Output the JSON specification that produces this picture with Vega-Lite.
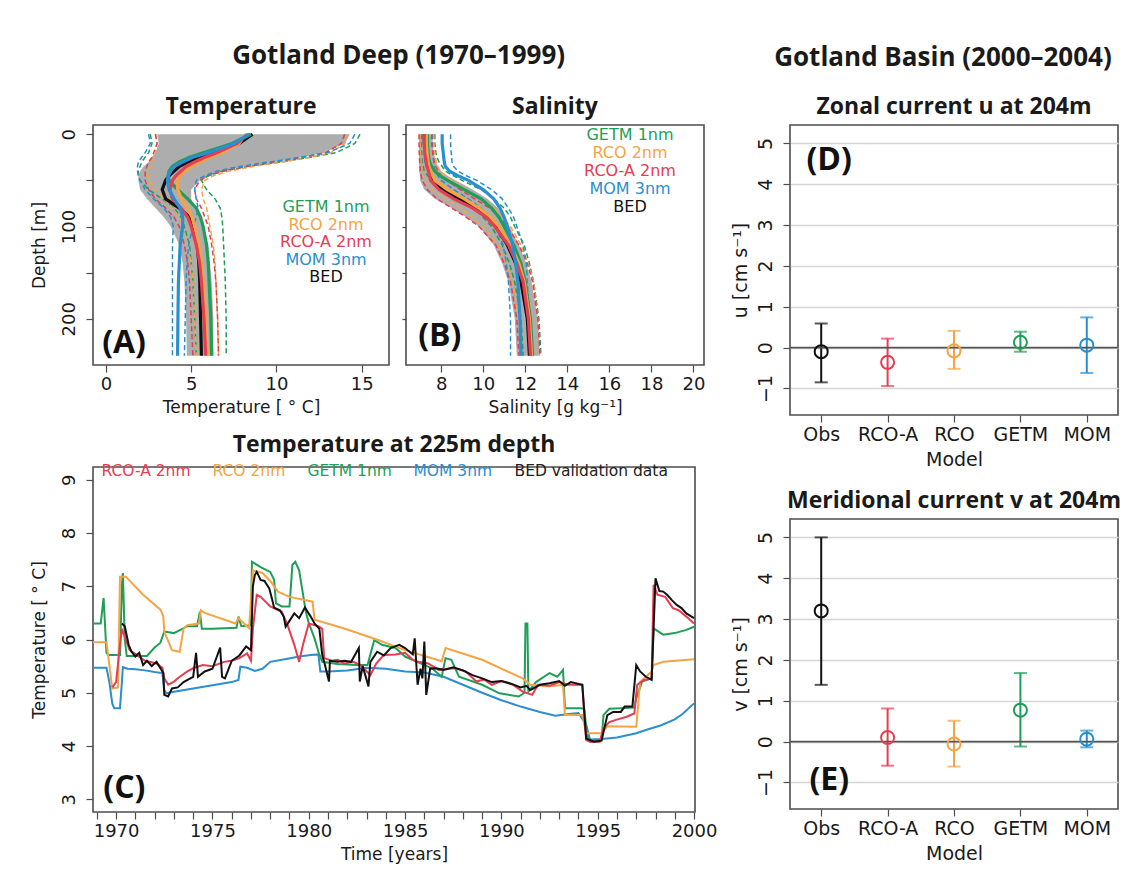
{
  "$schema": "https://vega.github.io/schema/vega-lite/v6.json",
  "background": "white",
  "padding": {"left": 29, "top": 43, "right": 0, "bottom": 0},
  "spacing": 12,
  "config": {
    "font": "DejaVu Sans",
    "view": {"stroke": "#4d4d4d", "strokeWidth": 1.6},
    "axis": {"domain": false, "grid": false, "labelFont": "DejaVu Sans", "labelFontSize": 18, "labelColor": "#1a1a1a", "titleFont": "DejaVu Sans", "titleFontSize": 17, "titleFontWeight": "normal", "titleColor": "#1a1a1a", "tickColor": "#4d4d4d", "tickSize": 7, "tickWidth": 1.2, "labelFlush": false, "labelOverlap": false, "labelPadding": 3, "titlePadding": 6},
    "axisY": {"labelAngle": 270, "labelAlign": "center", "labelBaseline": "bottom"},
    "title": {"font": "Open Sans", "fontWeight": "bold", "fontSize": 23, "color": "#1a1a1a", "anchor": "middle", "frame": "group", "offset": 6}
  },
  "datasets": {
    "profT": [
      {"m":"BED","d":0,"mu":8.6,"lo":3.0,"hi":14.3},{"m":"BED","d":10,"mu":7.8,"lo":3.1,"hi":14.0},{"m":"BED","d":20,"mu":6.3,"lo":2.9,"hi":12.8},{"m":"BED","d":25,"mu":5.4,"lo":2.7,"hi":11.5},{"m":"BED","d":30,"mu":4.8,"lo":2.5,"hi":9.8},{"m":"BED","d":35,"mu":4.3,"lo":2.2,"hi":8.0},{"m":"BED","d":40,"mu":4.0,"lo":2.0,"hi":6.8},{"m":"BED","d":45,"mu":3.7,"lo":1.9,"hi":6.0},{"m":"BED","d":50,"mu":3.5,"lo":1.9,"hi":5.5},{"m":"BED","d":60,"mu":3.3,"lo":2.0,"hi":5.0},{"m":"BED","d":70,"mu":3.5,"lo":2.4,"hi":5.0},{"m":"BED","d":80,"mu":4.3,"lo":2.9,"hi":5.2},{"m":"BED","d":90,"mu":4.9,"lo":3.4,"hi":5.5},{"m":"BED","d":100,"mu":5.15,"lo":3.8,"hi":5.7},{"m":"BED","d":120,"mu":5.35,"lo":4.3,"hi":6.0},{"m":"BED","d":140,"mu":5.45,"lo":4.5,"hi":6.1},{"m":"BED","d":160,"mu":5.5,"lo":4.6,"hi":6.2},{"m":"BED","d":200,"mu":5.55,"lo":4.7,"hi":6.3},{"m":"BED","d":240,"mu":5.6,"lo":4.75,"hi":6.3},
      {"m":"GETM 1nm","d":0,"mu":8.5,"lo":2.6,"hi":14.9},{"m":"GETM 1nm","d":10,"mu":7.4,"lo":2.7,"hi":14.6},{"m":"GETM 1nm","d":20,"mu":5.7,"lo":2.5,"hi":13.5},{"m":"GETM 1nm","d":25,"mu":4.9,"lo":2.3,"hi":12.0},{"m":"GETM 1nm","d":30,"mu":4.3,"lo":2.1,"hi":10.2},{"m":"GETM 1nm","d":35,"mu":3.9,"lo":2.0,"hi":8.3},{"m":"GETM 1nm","d":40,"mu":3.7,"lo":1.9,"hi":6.8},{"m":"GETM 1nm","d":45,"mu":3.65,"lo":1.9,"hi":6.0},{"m":"GETM 1nm","d":50,"mu":3.7,"lo":2.0,"hi":5.6},{"m":"GETM 1nm","d":60,"mu":4.2,"lo":2.5,"hi":5.9},{"m":"GETM 1nm","d":70,"mu":4.8,"lo":3.3,"hi":6.4},{"m":"GETM 1nm","d":80,"mu":5.3,"lo":4.0,"hi":6.7},{"m":"GETM 1nm","d":90,"mu":5.55,"lo":4.4,"hi":6.8},{"m":"GETM 1nm","d":100,"mu":5.7,"lo":4.6,"hi":6.85},{"m":"GETM 1nm","d":120,"mu":5.9,"lo":4.9,"hi":6.9},{"m":"GETM 1nm","d":140,"mu":6.0,"lo":5.0,"hi":6.95},{"m":"GETM 1nm","d":160,"mu":6.05,"lo":5.1,"hi":7.0},{"m":"GETM 1nm","d":200,"mu":6.15,"lo":5.2,"hi":7.05},{"m":"GETM 1nm","d":240,"mu":6.2,"lo":5.3,"hi":7.05},
      {"m":"RCO 2nm","d":0,"mu":8.2,"lo":2.9,"hi":14.2},{"m":"RCO 2nm","d":10,"mu":7.8,"lo":3.0,"hi":14.0},{"m":"RCO 2nm","d":20,"mu":6.8,"lo":2.9,"hi":13.2},{"m":"RCO 2nm","d":25,"mu":6.1,"lo":2.8,"hi":12.0},{"m":"RCO 2nm","d":30,"mu":5.5,"lo":2.7,"hi":10.4},{"m":"RCO 2nm","d":35,"mu":5.0,"lo":2.6,"hi":8.6},{"m":"RCO 2nm","d":40,"mu":4.6,"lo":2.5,"hi":7.2},{"m":"RCO 2nm","d":45,"mu":4.35,"lo":2.5,"hi":6.3},{"m":"RCO 2nm","d":50,"mu":4.2,"lo":2.6,"hi":5.8},{"m":"RCO 2nm","d":60,"mu":4.2,"lo":2.9,"hi":5.6},{"m":"RCO 2nm","d":70,"mu":4.45,"lo":3.4,"hi":5.7},{"m":"RCO 2nm","d":80,"mu":4.8,"lo":3.9,"hi":5.9},{"m":"RCO 2nm","d":90,"mu":5.05,"lo":4.3,"hi":6.0},{"m":"RCO 2nm","d":100,"mu":5.2,"lo":4.5,"hi":6.1},{"m":"RCO 2nm","d":120,"mu":5.45,"lo":4.8,"hi":6.3},{"m":"RCO 2nm","d":140,"mu":5.6,"lo":5.0,"hi":6.4},{"m":"RCO 2nm","d":160,"mu":5.7,"lo":5.1,"hi":6.45},{"m":"RCO 2nm","d":200,"mu":5.85,"lo":5.2,"hi":6.55},{"m":"RCO 2nm","d":240,"mu":5.95,"lo":5.3,"hi":6.6},
      {"m":"RCO-A 2nm","d":0,"mu":8.3,"lo":2.9,"hi":14.0},{"m":"RCO-A 2nm","d":10,"mu":7.7,"lo":3.0,"hi":13.8},{"m":"RCO-A 2nm","d":20,"mu":6.5,"lo":2.8,"hi":12.9},{"m":"RCO-A 2nm","d":25,"mu":5.8,"lo":2.7,"hi":11.6},{"m":"RCO-A 2nm","d":30,"mu":5.2,"lo":2.5,"hi":9.9},{"m":"RCO-A 2nm","d":35,"mu":4.7,"lo":2.4,"hi":8.2},{"m":"RCO-A 2nm","d":40,"mu":4.4,"lo":2.3,"hi":6.9},{"m":"RCO-A 2nm","d":45,"mu":4.1,"lo":2.3,"hi":6.0},{"m":"RCO-A 2nm","d":50,"mu":3.9,"lo":2.3,"hi":5.5},{"m":"RCO-A 2nm","d":60,"mu":3.75,"lo":2.5,"hi":5.2},{"m":"RCO-A 2nm","d":70,"mu":3.9,"lo":2.9,"hi":5.3},{"m":"RCO-A 2nm","d":80,"mu":4.4,"lo":3.5,"hi":5.6},{"m":"RCO-A 2nm","d":90,"mu":4.8,"lo":4.0,"hi":5.8},{"m":"RCO-A 2nm","d":100,"mu":5.0,"lo":4.3,"hi":6.0},{"m":"RCO-A 2nm","d":120,"mu":5.3,"lo":4.6,"hi":6.2},{"m":"RCO-A 2nm","d":140,"mu":5.5,"lo":4.8,"hi":6.35},{"m":"RCO-A 2nm","d":160,"mu":5.6,"lo":4.9,"hi":6.45},{"m":"RCO-A 2nm","d":200,"mu":5.75,"lo":5.0,"hi":6.55},{"m":"RCO-A 2nm","d":240,"mu":5.85,"lo":5.1,"hi":6.6},
      {"m":"MOM 3nm","d":0,"mu":8.4,"lo":2.5,"hi":14.6},{"m":"MOM 3nm","d":10,"mu":7.5,"lo":2.6,"hi":14.3},{"m":"MOM 3nm","d":20,"mu":6.0,"lo":2.3,"hi":13.0},{"m":"MOM 3nm","d":25,"mu":5.1,"lo":2.1,"hi":11.4},{"m":"MOM 3nm","d":30,"mu":4.5,"lo":1.9,"hi":9.6},{"m":"MOM 3nm","d":35,"mu":4.0,"lo":1.85,"hi":7.8},{"m":"MOM 3nm","d":40,"mu":3.8,"lo":1.85,"hi":6.5},{"m":"MOM 3nm","d":45,"mu":3.65,"lo":1.9,"hi":5.8},{"m":"MOM 3nm","d":50,"mu":3.6,"lo":2.0,"hi":5.3},{"m":"MOM 3nm","d":60,"mu":3.7,"lo":2.3,"hi":5.2},{"m":"MOM 3nm","d":70,"mu":4.0,"lo":2.8,"hi":5.3},{"m":"MOM 3nm","d":80,"mu":4.35,"lo":3.4,"hi":5.4},{"m":"MOM 3nm","d":90,"mu":4.5,"lo":3.8,"hi":5.3},{"m":"MOM 3nm","d":100,"mu":4.5,"lo":3.95,"hi":5.1},{"m":"MOM 3nm","d":120,"mu":4.35,"lo":3.9,"hi":4.85},{"m":"MOM 3nm","d":140,"mu":4.3,"lo":3.9,"hi":4.75},{"m":"MOM 3nm","d":160,"mu":4.25,"lo":3.9,"hi":4.7},{"m":"MOM 3nm","d":200,"mu":4.22,"lo":3.9,"hi":4.65},{"m":"MOM 3nm","d":240,"mu":4.2,"lo":3.9,"hi":4.6}
    ],
    "profS": [
      {"m":"BED","d":0,"mu":7.2,"lo":6.95,"hi":7.6},{"m":"BED","d":10,"mu":7.2,"lo":6.95,"hi":7.6},{"m":"BED","d":20,"mu":7.25,"lo":6.95,"hi":7.65},{"m":"BED","d":25,"mu":7.27,"lo":6.95,"hi":7.7},{"m":"BED","d":30,"mu":7.3,"lo":6.95,"hi":7.75},{"m":"BED","d":35,"mu":7.35,"lo":6.95,"hi":7.85},{"m":"BED","d":40,"mu":7.45,"lo":6.95,"hi":8.0},{"m":"BED","d":45,"mu":7.5,"lo":7.0,"hi":8.3},{"m":"BED","d":50,"mu":7.6,"lo":7.0,"hi":8.7},{"m":"BED","d":60,"mu":8.05,"lo":7.2,"hi":9.5},{"m":"BED","d":70,"mu":8.85,"lo":7.7,"hi":10.2},{"m":"BED","d":80,"mu":9.74,"lo":8.5,"hi":10.7},{"m":"BED","d":90,"mu":10.3,"lo":9.2,"hi":11.0},{"m":"BED","d":100,"mu":10.6,"lo":9.8,"hi":11.25},{"m":"BED","d":120,"mu":11.15,"lo":10.5,"hi":11.7},{"m":"BED","d":140,"mu":11.55,"lo":10.9,"hi":12.05},{"m":"BED","d":160,"mu":11.8,"lo":11.2,"hi":12.3},{"m":"BED","d":200,"mu":12.1,"lo":11.5,"hi":12.6},{"m":"BED","d":240,"mu":12.2,"lo":11.6,"hi":12.7},
      {"m":"GETM 1nm","d":0,"mu":7.35,"lo":7.05,"hi":7.7},{"m":"GETM 1nm","d":10,"mu":7.35,"lo":7.05,"hi":7.7},{"m":"GETM 1nm","d":20,"mu":7.38,"lo":7.07,"hi":7.75},{"m":"GETM 1nm","d":25,"mu":7.4,"lo":7.1,"hi":7.8},{"m":"GETM 1nm","d":30,"mu":7.45,"lo":7.1,"hi":7.9},{"m":"GETM 1nm","d":35,"mu":7.55,"lo":7.15,"hi":8.05},{"m":"GETM 1nm","d":40,"mu":7.7,"lo":7.2,"hi":8.2},{"m":"GETM 1nm","d":45,"mu":7.95,"lo":7.35,"hi":8.6},{"m":"GETM 1nm","d":50,"mu":8.3,"lo":7.6,"hi":9.0},{"m":"GETM 1nm","d":60,"mu":9.1,"lo":8.2,"hi":9.9},{"m":"GETM 1nm","d":70,"mu":9.9,"lo":8.9,"hi":10.5},{"m":"GETM 1nm","d":80,"mu":10.4,"lo":9.6,"hi":11.0},{"m":"GETM 1nm","d":90,"mu":10.75,"lo":10.0,"hi":11.3},{"m":"GETM 1nm","d":100,"mu":11.0,"lo":10.4,"hi":11.5},{"m":"GETM 1nm","d":120,"mu":11.45,"lo":10.9,"hi":11.95},{"m":"GETM 1nm","d":140,"mu":11.8,"lo":11.25,"hi":12.2},{"m":"GETM 1nm","d":160,"mu":12.0,"lo":11.5,"hi":12.4},{"m":"GETM 1nm","d":200,"mu":12.25,"lo":11.8,"hi":12.65},{"m":"GETM 1nm","d":240,"mu":12.35,"lo":11.9,"hi":12.75},
      {"m":"RCO 2nm","d":0,"mu":7.3,"lo":7.0,"hi":7.65},{"m":"RCO 2nm","d":10,"mu":7.3,"lo":7.0,"hi":7.65},{"m":"RCO 2nm","d":20,"mu":7.33,"lo":7.02,"hi":7.7},{"m":"RCO 2nm","d":25,"mu":7.35,"lo":7.03,"hi":7.72},{"m":"RCO 2nm","d":30,"mu":7.38,"lo":7.05,"hi":7.78},{"m":"RCO 2nm","d":35,"mu":7.42,"lo":7.07,"hi":7.85},{"m":"RCO 2nm","d":40,"mu":7.5,"lo":7.1,"hi":7.95},{"m":"RCO 2nm","d":45,"mu":7.6,"lo":7.15,"hi":8.2},{"m":"RCO 2nm","d":50,"mu":7.7,"lo":7.2,"hi":8.5},{"m":"RCO 2nm","d":60,"mu":8.3,"lo":7.6,"hi":9.2},{"m":"RCO 2nm","d":70,"mu":9.1,"lo":8.2,"hi":9.9},{"m":"RCO 2nm","d":80,"mu":9.8,"lo":8.9,"hi":10.5},{"m":"RCO 2nm","d":90,"mu":10.35,"lo":9.5,"hi":10.95},{"m":"RCO 2nm","d":100,"mu":10.75,"lo":10.0,"hi":11.3},{"m":"RCO 2nm","d":120,"mu":11.3,"lo":10.7,"hi":11.8},{"m":"RCO 2nm","d":140,"mu":11.7,"lo":11.1,"hi":12.15},{"m":"RCO 2nm","d":160,"mu":11.95,"lo":11.4,"hi":12.4},{"m":"RCO 2nm","d":200,"mu":12.2,"lo":11.7,"hi":12.6},{"m":"RCO 2nm","d":240,"mu":12.3,"lo":11.8,"hi":12.7},
      {"m":"RCO-A 2nm","d":0,"mu":7.2,"lo":6.95,"hi":7.55},{"m":"RCO-A 2nm","d":10,"mu":7.2,"lo":6.95,"hi":7.55},{"m":"RCO-A 2nm","d":20,"mu":7.22,"lo":6.96,"hi":7.6},{"m":"RCO-A 2nm","d":25,"mu":7.25,"lo":6.97,"hi":7.62},{"m":"RCO-A 2nm","d":30,"mu":7.28,"lo":6.98,"hi":7.68},{"m":"RCO-A 2nm","d":35,"mu":7.33,"lo":7.0,"hi":7.75},{"m":"RCO-A 2nm","d":40,"mu":7.4,"lo":7.02,"hi":7.85},{"m":"RCO-A 2nm","d":45,"mu":7.45,"lo":7.05,"hi":8.0},{"m":"RCO-A 2nm","d":50,"mu":7.5,"lo":7.1,"hi":8.3},{"m":"RCO-A 2nm","d":60,"mu":7.9,"lo":7.35,"hi":8.9},{"m":"RCO-A 2nm","d":70,"mu":8.6,"lo":7.8,"hi":9.6},{"m":"RCO-A 2nm","d":80,"mu":9.5,"lo":8.5,"hi":10.3},{"m":"RCO-A 2nm","d":90,"mu":10.15,"lo":9.2,"hi":10.8},{"m":"RCO-A 2nm","d":100,"mu":10.55,"lo":9.8,"hi":11.15},{"m":"RCO-A 2nm","d":120,"mu":11.2,"lo":10.6,"hi":11.7},{"m":"RCO-A 2nm","d":140,"mu":11.6,"lo":11.0,"hi":12.1},{"m":"RCO-A 2nm","d":160,"mu":11.9,"lo":11.3,"hi":12.35},{"m":"RCO-A 2nm","d":200,"mu":12.15,"lo":11.6,"hi":12.6},{"m":"RCO-A 2nm","d":240,"mu":12.25,"lo":11.7,"hi":12.7},
      {"m":"MOM 3nm","d":0,"mu":8.05,"lo":7.6,"hi":8.45},{"m":"MOM 3nm","d":10,"mu":8.05,"lo":7.6,"hi":8.45},{"m":"MOM 3nm","d":20,"mu":8.1,"lo":7.62,"hi":8.48},{"m":"MOM 3nm","d":25,"mu":8.12,"lo":7.63,"hi":8.5},{"m":"MOM 3nm","d":30,"mu":8.15,"lo":7.65,"hi":8.52},{"m":"MOM 3nm","d":35,"mu":8.2,"lo":7.67,"hi":8.6},{"m":"MOM 3nm","d":40,"mu":8.4,"lo":7.7,"hi":8.8},{"m":"MOM 3nm","d":45,"mu":8.8,"lo":7.85,"hi":9.2},{"m":"MOM 3nm","d":50,"mu":9.3,"lo":8.0,"hi":9.7},{"m":"MOM 3nm","d":60,"mu":10.0,"lo":8.6,"hi":10.4},{"m":"MOM 3nm","d":70,"mu":10.5,"lo":9.3,"hi":10.9},{"m":"MOM 3nm","d":80,"mu":10.8,"lo":9.9,"hi":11.2},{"m":"MOM 3nm","d":90,"mu":11.0,"lo":10.3,"hi":11.45},{"m":"MOM 3nm","d":100,"mu":11.15,"lo":10.6,"hi":11.6},{"m":"MOM 3nm","d":120,"mu":11.4,"lo":10.95,"hi":11.9},{"m":"MOM 3nm","d":140,"mu":11.55,"lo":11.1,"hi":12.05},{"m":"MOM 3nm","d":160,"mu":11.65,"lo":11.2,"hi":12.1},{"m":"MOM 3nm","d":200,"mu":11.75,"lo":11.3,"hi":12.2},{"m":"MOM 3nm","d":240,"mu":11.8,"lo":11.3,"hi":12.25}
    ],
    "mom": [
      {"t":1968.8,"v":5.47},{"t":1969.5,"v":5.47},{"t":1969.65,"v":5.2},{"t":1969.8,"v":4.8},{"t":1969.9,"v":4.71},{"t":1970.2,"v":4.71},{"t":1970.3,"v":5.2},{"t":1970.35,"v":5.48},{"t":1970.6,"v":5.45},{"t":1971.0,"v":5.44},{"t":1971.5,"v":5.42},{"t":1972.0,"v":5.39},{"t":1972.4,"v":5.37},{"t":1972.5,"v":5.05},{"t":1972.6,"v":4.99},{"t":1973.0,"v":5.02},{"t":1974.0,"v":5.08},{"t":1975.0,"v":5.14},{"t":1976.0,"v":5.2},{"t":1976.35,"v":5.24},{"t":1976.45,"v":5.49},{"t":1976.8,"v":5.47},{"t":1977.2,"v":5.41},{"t":1977.6,"v":5.45},{"t":1978.0,"v":5.58},{"t":1978.9,"v":5.64},{"t":1979.5,"v":5.68},{"t":1980.1,"v":5.71},{"t":1980.5,"v":5.72},{"t":1980.6,"v":5.4},{"t":1981.0,"v":5.4},{"t":1982.0,"v":5.42},{"t":1983.0,"v":5.47},{"t":1984.0,"v":5.45},{"t":1985.0,"v":5.4},{"t":1986.0,"v":5.38},{"t":1987.0,"v":5.3},{"t":1988.0,"v":5.15},{"t":1989.0,"v":5.0},{"t":1990.0,"v":4.86},{"t":1991.0,"v":4.74},{"t":1992.0,"v":4.64},{"t":1992.8,"v":4.57},{"t":1993.5,"v":4.6},{"t":1994.0,"v":4.62},{"t":1994.4,"v":4.4},{"t":1994.6,"v":4.12},{"t":1995.2,"v":4.13},{"t":1996.0,"v":4.16},{"t":1997.0,"v":4.24},{"t":1997.5,"v":4.3},{"t":1998.3,"v":4.39},{"t":1999.0,"v":4.5},{"t":1999.4,"v":4.6},{"t":2000.0,"v":4.8}
    ],
    "getm": [
      {"t":1968.8,"v":6.3},{"t":1969.2,"v":6.3},{"t":1969.35,"v":6.78},{"t":1969.5,"v":5.75},{"t":1969.6,"v":5.71},{"t":1970.2,"v":5.71},{"t":1970.3,"v":7.0},{"t":1970.35,"v":7.25},{"t":1970.45,"v":6.0},{"t":1970.55,"v":5.69},{"t":1971.6,"v":5.69},{"t":1972.0,"v":5.85},{"t":1972.3,"v":5.94},{"t":1972.5,"v":6.15},{"t":1973.0,"v":6.12},{"t":1973.7,"v":6.25},{"t":1974.2,"v":6.25},{"t":1974.35,"v":6.52},{"t":1974.45,"v":6.2},{"t":1975.0,"v":6.2},{"t":1976.25,"v":6.22},{"t":1976.35,"v":6.43},{"t":1976.5,"v":6.25},{"t":1977.0,"v":6.27},{"t":1977.05,"v":7.46},{"t":1977.5,"v":7.36},{"t":1978.0,"v":7.27},{"t":1978.2,"v":7.12},{"t":1978.3,"v":6.68},{"t":1978.6,"v":6.62},{"t":1979.0,"v":6.62},{"t":1979.15,"v":7.4},{"t":1979.3,"v":7.46},{"t":1979.5,"v":7.3},{"t":1979.85,"v":6.52},{"t":1980.0,"v":6.31},{"t":1980.3,"v":6.02},{"t":1980.5,"v":5.77},{"t":1980.7,"v":5.58},{"t":1981.5,"v":5.54},{"t":1982.5,"v":5.52},{"t":1983.05,"v":5.52},{"t":1983.4,"v":5.99},{"t":1983.8,"v":5.9},{"t":1984.5,"v":5.84},{"t":1985.0,"v":5.68},{"t":1985.5,"v":5.6},{"t":1986.4,"v":5.46},{"t":1986.9,"v":5.3},{"t":1987.1,"v":5.65},{"t":1987.4,"v":5.62},{"t":1987.8,"v":5.3},{"t":1989.0,"v":5.15},{"t":1989.9,"v":4.99},{"t":1990.9,"v":4.93},{"t":1991.2,"v":5.0},{"t":1991.25,"v":6.3},{"t":1991.35,"v":6.3},{"t":1991.4,"v":5.02},{"t":1991.8,"v":5.2},{"t":1992.5,"v":5.37},{"t":1992.9,"v":5.3},{"t":1993.2,"v":5.43},{"t":1993.3,"v":4.71},{"t":1994.1,"v":4.71},{"t":1994.3,"v":4.7},{"t":1994.45,"v":4.2},{"t":1994.6,"v":4.08},{"t":1995.2,"v":4.12},{"t":1995.3,"v":4.58},{"t":1995.6,"v":4.7},{"t":1996.9,"v":4.72},{"t":1997.0,"v":4.9},{"t":1997.3,"v":5.21},{"t":1997.8,"v":5.27},{"t":1997.9,"v":6.21},{"t":1998.4,"v":6.09},{"t":1999.0,"v":6.12},{"t":1999.6,"v":6.18},{"t":2000.0,"v":6.24}
    ],
    "rco": [
      {"t":1968.8,"v":5.95},{"t":1969.5,"v":5.95},{"t":1969.8,"v":5.08},{"t":1970.1,"v":5.1},{"t":1970.2,"v":7.18},{"t":1970.5,"v":7.18},{"t":1971.4,"v":6.84},{"t":1972.3,"v":6.56},{"t":1972.45,"v":6.44},{"t":1972.5,"v":6.15},{"t":1972.9,"v":5.8},{"t":1973.3,"v":5.77},{"t":1973.5,"v":6.2},{"t":1973.7,"v":6.27},{"t":1974.3,"v":6.3},{"t":1974.4,"v":6.55},{"t":1974.6,"v":6.5},{"t":1976.2,"v":6.3},{"t":1976.35,"v":6.4},{"t":1976.9,"v":6.21},{"t":1977.1,"v":7.3},{"t":1977.6,"v":7.25},{"t":1978.0,"v":7.1},{"t":1978.4,"v":6.9},{"t":1979.0,"v":6.8},{"t":1980.2,"v":6.71},{"t":1980.3,"v":6.37},{"t":1981.8,"v":6.21},{"t":1983.6,"v":5.99},{"t":1985.0,"v":5.8},{"t":1986.9,"v":5.59},{"t":1987.1,"v":5.84},{"t":1989.0,"v":5.62},{"t":1991.1,"v":5.27},{"t":1991.5,"v":5.15},{"t":1992.5,"v":5.12},{"t":1993.2,"v":5.15},{"t":1993.3,"v":4.58},{"t":1994.2,"v":4.58},{"t":1994.4,"v":4.24},{"t":1995.2,"v":4.24},{"t":1995.5,"v":4.37},{"t":1997.0,"v":4.36},{"t":1997.2,"v":5.2},{"t":1997.8,"v":5.4},{"t":1997.9,"v":5.52},{"t":1998.4,"v":5.58},{"t":2000.0,"v":5.63}
    ],
    "rcoa": [
      {"t":1969.8,"v":5.1},{"t":1970.0,"v":5.2},{"t":1970.2,"v":5.9},{"t":1970.3,"v":6.2},{"t":1970.5,"v":6.0},{"t":1970.7,"v":5.8},{"t":1971.07,"v":5.71},{"t":1971.5,"v":5.6},{"t":1972.1,"v":5.55},{"t":1972.4,"v":5.47},{"t":1972.5,"v":5.27},{"t":1972.7,"v":5.15},{"t":1973.0,"v":5.21},{"t":1973.3,"v":5.3},{"t":1973.7,"v":5.4},{"t":1974.0,"v":5.46},{"t":1974.5,"v":5.52},{"t":1975.0,"v":5.5},{"t":1975.6,"v":5.58},{"t":1976.0,"v":5.6},{"t":1976.4,"v":5.65},{"t":1976.8,"v":5.74},{"t":1977.0,"v":5.6},{"t":1977.1,"v":6.2},{"t":1977.3,"v":6.84},{"t":1977.5,"v":6.8},{"t":1978.0,"v":6.62},{"t":1978.6,"v":6.52},{"t":1978.9,"v":6.27},{"t":1979.25,"v":5.9},{"t":1979.5,"v":5.58},{"t":1979.7,"v":5.9},{"t":1980.0,"v":6.3},{"t":1980.5,"v":6.25},{"t":1980.7,"v":6.2},{"t":1980.8,"v":5.65},{"t":1981.2,"v":5.6},{"t":1981.5,"v":5.62},{"t":1981.85,"v":5.55},{"t":1982.3,"v":5.58},{"t":1982.7,"v":5.52},{"t":1983.2,"v":5.33},{"t":1983.5,"v":5.55},{"t":1983.9,"v":5.71},{"t":1984.5,"v":5.72},{"t":1985.0,"v":5.75},{"t":1985.4,"v":5.62},{"t":1985.7,"v":5.58},{"t":1986.2,"v":5.55},{"t":1986.75,"v":5.43},{"t":1987.3,"v":5.45},{"t":1987.6,"v":5.46},{"t":1988.15,"v":5.4},{"t":1988.7,"v":5.21},{"t":1989.1,"v":5.25},{"t":1989.5,"v":5.15},{"t":1990.0,"v":5.22},{"t":1990.6,"v":5.15},{"t":1991.1,"v":5.02},{"t":1991.6,"v":4.96},{"t":1991.9,"v":5.15},{"t":1992.5,"v":5.13},{"t":1993.0,"v":5.2},{"t":1993.5,"v":5.15},{"t":1994.2,"v":5.15},{"t":1994.4,"v":4.11},{"t":1994.6,"v":4.08},{"t":1995.1,"v":4.08},{"t":1995.3,"v":4.33},{"t":1995.6,"v":4.45},{"t":1995.95,"v":4.49},{"t":1996.5,"v":4.55},{"t":1996.9,"v":4.61},{"t":1997.05,"v":5.15},{"t":1997.4,"v":5.24},{"t":1997.8,"v":5.27},{"t":1997.9,"v":7.03},{"t":1998.1,"v":6.84},{"t":1998.5,"v":6.8},{"t":1998.9,"v":6.59},{"t":1999.2,"v":6.55},{"t":1999.6,"v":6.43},{"t":2000.0,"v":6.3}
    ],
    "bed": [
      {"t":1970.3,"v":6.3},{"t":1970.45,"v":6.25},{"t":1970.65,"v":5.9},{"t":1970.8,"v":5.77},{"t":1971.0,"v":5.68},{"t":1971.2,"v":5.75},{"t":1971.4,"v":5.52},{"t":1971.6,"v":5.6},{"t":1971.85,"v":5.5},{"t":1972.1,"v":5.58},{"t":1972.3,"v":5.46},{"t":1972.45,"v":5.37},{"t":1972.5,"v":4.96},{"t":1972.7,"v":4.93},{"t":1972.9,"v":5.08},{"t":1973.2,"v":5.1},{"t":1973.5,"v":5.2},{"t":1974.0,"v":5.3},{"t":1974.15,"v":5.75},{"t":1974.25,"v":5.3},{"t":1974.6,"v":5.4},{"t":1975.0,"v":5.45},{"t":1975.4,"v":5.85},{"t":1975.5,"v":5.3},{"t":1975.65,"v":5.27},{"t":1976.0,"v":5.6},{"t":1976.4,"v":5.7},{"t":1976.75,"v":5.87},{"t":1977.0,"v":5.8},{"t":1977.1,"v":7.0},{"t":1977.2,"v":7.21},{"t":1977.3,"v":7.27},{"t":1977.5,"v":7.12},{"t":1977.7,"v":7.1},{"t":1977.95,"v":6.96},{"t":1978.1,"v":6.75},{"t":1978.2,"v":6.6},{"t":1978.5,"v":6.55},{"t":1978.7,"v":6.43},{"t":1978.8,"v":6.24},{"t":1979.0,"v":6.35},{"t":1979.25,"v":6.49},{"t":1979.5,"v":6.4},{"t":1979.8,"v":6.6},{"t":1980.1,"v":6.43},{"t":1980.3,"v":6.3},{"t":1980.55,"v":6.2},{"t":1980.7,"v":5.71},{"t":1980.8,"v":5.58},{"t":1981.05,"v":5.21},{"t":1981.1,"v":5.6},{"t":1981.5,"v":5.58},{"t":1981.85,"v":5.6},{"t":1982.2,"v":5.58},{"t":1982.6,"v":5.84},{"t":1982.65,"v":5.21},{"t":1982.8,"v":5.5},{"t":1983.1,"v":5.12},{"t":1983.2,"v":5.58},{"t":1983.55,"v":5.77},{"t":1983.9,"v":5.7},{"t":1984.25,"v":5.84},{"t":1984.7,"v":5.9},{"t":1985.0,"v":5.84},{"t":1985.4,"v":5.72},{"t":1985.5,"v":6.02},{"t":1985.65,"v":5.15},{"t":1985.8,"v":5.45},{"t":1985.9,"v":5.27},{"t":1986.0,"v":5.96},{"t":1986.1,"v":4.96},{"t":1986.3,"v":5.45},{"t":1986.6,"v":5.46},{"t":1987.0,"v":5.43},{"t":1987.5,"v":5.48},{"t":1988.0,"v":5.42},{"t":1988.5,"v":5.33},{"t":1989.0,"v":5.27},{"t":1989.5,"v":5.2},{"t":1990.0,"v":5.22},{"t":1990.5,"v":5.17},{"t":1991.0,"v":5.1},{"t":1991.3,"v":5.13},{"t":1991.5,"v":5.05},{"t":1992.0,"v":5.15},{"t":1992.5,"v":5.18},{"t":1993.0,"v":5.22},{"t":1993.3,"v":5.13},{"t":1993.6,"v":5.2},{"t":1994.2,"v":5.15},{"t":1994.4,"v":4.14},{"t":1994.8,"v":4.08},{"t":1995.2,"v":4.1},{"t":1995.5,"v":4.58},{"t":1995.8,"v":4.64},{"t":1996.2,"v":4.64},{"t":1996.4,"v":4.74},{"t":1996.8,"v":4.74},{"t":1997.0,"v":5.52},{"t":1997.2,"v":5.4},{"t":1997.5,"v":5.3},{"t":1997.8,"v":5.24},{"t":1998.0,"v":7.15},{"t":1998.2,"v":6.91},{"t":1998.4,"v":6.9},{"t":1998.6,"v":6.84},{"t":1998.85,"v":6.74},{"t":1999.1,"v":6.65},{"t":1999.35,"v":6.59},{"t":1999.6,"v":6.49},{"t":2000.0,"v":6.4}
    ],
    "cur": [
      {"p":"u","m":"Obs","mean":-0.1,"lo":-0.85,"hi":0.59},{"p":"u","m":"RCO-A","mean":-0.36,"lo":-0.94,"hi":0.22},{"p":"u","m":"RCO","mean":-0.08,"lo":-0.52,"hi":0.41},{"p":"u","m":"GETM","mean":0.13,"lo":-0.1,"hi":0.39},{"p":"u","m":"MOM","mean":0.06,"lo":-0.62,"hi":0.74},
      {"p":"v","m":"Obs","mean":3.2,"lo":1.39,"hi":5.0},{"p":"v","m":"RCO-A","mean":0.1,"lo":-0.59,"hi":0.81},{"p":"v","m":"RCO","mean":-0.06,"lo":-0.61,"hi":0.51},{"p":"v","m":"GETM","mean":0.77,"lo":-0.12,"hi":1.68},{"p":"v","m":"MOM","mean":0.06,"lo":-0.14,"hi":0.27}
    ]
  },
  "resolve": {"scale": {"color": "independent"}, "legend": {"color": "independent"}},
  "hconcat": [
    {
      "title": {"text": "Gotland Deep (1970–1999)", "anchor": "start", "frame": "bounds", "dx": 203, "fontSize": 26, "offset": 26},
      "spacing": 17,
      "resolve": {"scale": {"color": "independent"}, "legend": {"color": "independent"}},
      "vconcat": [
        {
          "spacing": 10,
          "resolve": {"scale": {"color": "independent"}, "legend": {"color": "independent"}},
          "hconcat": [
            {
              "width": 296,
              "height": 240,
              "title": {"text": "Temperature"},
              "data": {"name": "profT"},
              "layer": [
                {
                  "transform": [{"filter": "datum.m === 'BED'"}],
                  "mark": {"type": "area", "orient": "horizontal", "color": "#a9a9a9", "opacity": 0.95},
                  "encoding": {
                    "y": {"field": "d", "type": "quantitative", "scale": {"domain": [-10, 250], "reverse": true, "nice": false, "zero": false}, "axis": {"values": [0, 50, 100, 150, 200], "labelExpr": "datum.value % 100 === 0 ? datum.label : ''", "title": "Depth [m]", "labelPadding": 8, "titlePadding": 12}},
                    "x": {"field": "lo", "type": "quantitative", "scale": {"domain": [-0.76, 16.6], "nice": false, "zero": false}, "axis": {"values": [0, 5, 10, 15], "title": "Temperature [ ° C]"}},
                    "x2": {"field": "hi"}
                  }
                },
                {
                  "transform": [{"filter": "datum.m !== 'BED'"}],
                  "mark": {"type": "line", "strokeDash": [5, 3], "strokeWidth": 1.5},
                  "encoding": {
                    "y": {"field": "d", "type": "quantitative"},
                    "x": {"field": "lo", "type": "quantitative"},
                    "order": {"field": "d"},
                    "color": {
                      "field": "m",
                      "type": "nominal",
                      "scale": {"domain": ["GETM 1nm", "RCO 2nm", "RCO-A 2nm", "MOM 3nm", "BED"], "range": ["#1f9e57", "#f5a445", "#e63d52", "#2a8fd0", "#111111"]},
                      "legend": {
                        "orient": "none", "legendX": 217, "legendY": 74, "title": null,
                        "symbolSize": 0, "symbolStrokeWidth": 0, "symbolOpacity": 0, "labelOffset": 0,
                        "labelAlign": "center", "labelFont": "DejaVu Sans", "labelFontSize": 16, "rowPadding": 1.5, "padding": 0, "labelLimit": 300,
                        "encode": {
                          "labels": {
                            "update": {
                              "fill": {"signal": "datum.value === 'GETM 1nm' ? '#1f9e57' : datum.value === 'RCO 2nm' ? '#f5a445' : datum.value === 'RCO-A 2nm' ? '#e63d52' : datum.value === 'MOM 3nm' ? '#2a8fd0' : '#111111'"}
                            }
                          }
                        }
                      }
                    }
                  }
                },
                {
                  "transform": [{"filter": "datum.m !== 'BED'"}],
                  "mark": {"type": "line", "strokeDash": [5, 3], "strokeWidth": 1.5},
                  "encoding": {
                    "y": {"field": "d", "type": "quantitative"},
                    "x": {"field": "hi", "type": "quantitative"},
                    "order": {"field": "d"},
                    "color": {"field": "m", "type": "nominal"}
                  }
                },
                {
                  "mark": {"type": "line", "strokeWidth": 3.2},
                  "encoding": {
                    "y": {"field": "d", "type": "quantitative"},
                    "x": {"field": "mu", "type": "quantitative"},
                    "order": {"field": "d"},
                    "color": {"field": "m", "type": "nominal"}
                  }
                },
                {
                  "data": {"values": [{}]},
                  "mark": {"type": "text", "font": "Open Sans", "fontWeight": "bold", "fontSize": 32, "color": "#111111", "align": "center", "baseline": "middle"},
                  "encoding": {"x": {"datum": 1.06}, "y": {"datum": 226}, "text": {"value": "(A)"}}
                }
              ]
            },
            {
              "width": 298,
              "height": 240,
              "title": {"text": "Salinity"},
              "data": {"name": "profS"},
              "layer": [
                {
                  "transform": [{"filter": "datum.m === 'BED'"}],
                  "mark": {"type": "area", "orient": "horizontal", "color": "#a9a9a9", "opacity": 0.95},
                  "encoding": {
                    "y": {"field": "d", "type": "quantitative", "scale": {"domain": [-10, 250], "reverse": true, "nice": false, "zero": false}, "axis": {"values": [0, 50, 100, 150, 200], "labels": false, "title": null, "tickSize": 4}},
                    "x": {"field": "lo", "type": "quantitative", "scale": {"domain": [6.33, 20.5], "nice": false, "zero": false}, "axis": {"values": [8, 10, 12, 14, 16, 18, 20], "title": "Salinity [g kg⁻¹]"}},
                    "x2": {"field": "hi"}
                  }
                },
                {
                  "transform": [{"filter": "datum.m !== 'BED'"}],
                  "mark": {"type": "line", "strokeDash": [5, 3], "strokeWidth": 1.5},
                  "encoding": {
                    "y": {"field": "d", "type": "quantitative"},
                    "x": {"field": "lo", "type": "quantitative"},
                    "order": {"field": "d"},
                    "color": {
                      "field": "m",
                      "type": "nominal",
                      "scale": {"domain": ["GETM 1nm", "RCO 2nm", "RCO-A 2nm", "MOM 3nm", "BED"], "range": ["#1f9e57", "#f5a445", "#e63d52", "#2a8fd0", "#111111"]},
                      "legend": {
                        "orient": "none", "legendX": 208, "legendY": 2, "title": null,
                        "symbolSize": 0, "symbolStrokeWidth": 0, "symbolOpacity": 0, "labelOffset": 0,
                        "labelAlign": "center", "labelFont": "DejaVu Sans", "labelFontSize": 16, "rowPadding": 2, "padding": 0, "labelLimit": 300,
                        "encode": {
                          "labels": {
                            "update": {
                              "fill": {"signal": "datum.value === 'GETM 1nm' ? '#1f9e57' : datum.value === 'RCO 2nm' ? '#f5a445' : datum.value === 'RCO-A 2nm' ? '#e63d52' : datum.value === 'MOM 3nm' ? '#2a8fd0' : '#111111'"}
                            }
                          }
                        }
                      }
                    }
                  }
                },
                {
                  "transform": [{"filter": "datum.m !== 'BED'"}],
                  "mark": {"type": "line", "strokeDash": [5, 3], "strokeWidth": 1.5},
                  "encoding": {
                    "y": {"field": "d", "type": "quantitative"},
                    "x": {"field": "hi", "type": "quantitative"},
                    "order": {"field": "d"},
                    "color": {"field": "m", "type": "nominal"}
                  }
                },
                {
                  "mark": {"type": "line", "strokeWidth": 3.2},
                  "encoding": {
                    "y": {"field": "d", "type": "quantitative"},
                    "x": {"field": "mu", "type": "quantitative"},
                    "order": {"field": "d"},
                    "color": {"field": "m", "type": "nominal"}
                  }
                },
                {
                  "data": {"values": [{}]},
                  "mark": {"type": "text", "font": "Open Sans", "fontWeight": "bold", "fontSize": 32, "color": "#111111", "align": "center", "baseline": "middle"},
                  "encoding": {"x": {"datum": 7.94}, "y": {"datum": 219}, "text": {"value": "(B)"}}
                }
              ]
            }
          ]
        },
        {
          "width": 602,
          "height": 345,
          "title": {"text": "Temperature at 225m depth"},
          "resolve": {"axis": {"x": "independent"}},
          "layer": [
            {
              "data": {"name": "mom"},
              "mark": {"type": "line", "strokeWidth": 2},
              "encoding": {
                "x": {"field": "t", "type": "quantitative", "scale": {"domain": [1968.8, 2000.05], "nice": false, "zero": false}, "axis": {"orient": "bottom", "values": [1970, 1975, 1980, 1985, 1990, 1995, 2000], "format": "d", "title": "Time [years]"}},
                "y": {"field": "v", "type": "quantitative", "scale": {"domain": [2.76, 9.24], "nice": false, "zero": false}, "axis": {"values": [3, 4, 5, 6, 7, 8, 9], "title": "Temperature [ ° C]", "labelPadding": 8, "titlePadding": 12}},
                "color": {
                  "datum": "MOM 3nm",
                  "scale": {"domain": ["RCO-A 2nm", "RCO 2nm", "GETM 1nm", "MOM 3nm", "BED validation data"], "range": ["#e63d52", "#f5a445", "#1f9e57", "#2a8fd0", "#111111"]},
                  "legend": {
                    "orient": "none", "direction": "horizontal", "legendX": -7, "legendY": -4, "title": null,
                    "symbolSize": 0, "symbolStrokeWidth": 0, "symbolOpacity": 0, "labelOffset": 0,
                    "labelFont": "DejaVu Sans", "labelFontSize": 15.5, "columnPadding": 6, "padding": 0, "labelLimit": 300,
                    "encode": {
                      "labels": {
                        "update": {
                          "fill": {"signal": "datum.value === 'GETM 1nm' ? '#1f9e57' : datum.value === 'RCO 2nm' ? '#f5a445' : datum.value === 'RCO-A 2nm' ? '#e63d52' : datum.value === 'MOM 3nm' ? '#2a8fd0' : '#222222'"}
                        }
                      }
                    }
                  }
                }
              }
            },
            {
              "data": {"name": "getm"},
              "mark": {"type": "line", "strokeWidth": 2},
              "encoding": {
                "x": {"field": "t", "type": "quantitative", "axis": {"orient": "bottom", "values": [1969, 1971, 1972, 1973, 1974, 1976, 1977, 1978, 1979, 1981, 1982, 1983, 1984, 1986, 1987, 1988, 1989, 1991, 1992, 1993, 1994, 1996, 1997, 1998, 1999], "labels": false, "title": null}},
                "y": {"field": "v", "type": "quantitative"},
                "color": {"datum": "GETM 1nm"}
              }
            },
            {
              "data": {"name": "rco"},
              "mark": {"type": "line", "strokeWidth": 2},
              "encoding": {"x": {"field": "t", "type": "quantitative", "axis": null}, "y": {"field": "v", "type": "quantitative"}, "color": {"datum": "RCO 2nm"}}
            },
            {
              "data": {"name": "rcoa"},
              "mark": {"type": "line", "strokeWidth": 2},
              "encoding": {"x": {"field": "t", "type": "quantitative", "axis": null}, "y": {"field": "v", "type": "quantitative"}, "color": {"datum": "RCO-A 2nm"}}
            },
            {
              "data": {"name": "bed"},
              "mark": {"type": "line", "strokeWidth": 2},
              "encoding": {"x": {"field": "t", "type": "quantitative", "axis": null}, "y": {"field": "v", "type": "quantitative"}, "color": {"datum": "BED validation data"}}
            },
            {
              "data": {"values": [{}]},
              "mark": {"type": "text", "font": "Open Sans", "fontWeight": "bold", "fontSize": 32, "color": "#111111", "align": "center", "baseline": "middle"},
              "encoding": {"x": {"datum": 1970.43, "axis": null}, "y": {"datum": 3.21}, "text": {"value": "(C)"}}
            }
          ]
        }
      ]
    },
    {
      "title": {"text": "Gotland Basin (2000–2004)", "anchor": "start", "frame": "bounds", "dx": 44, "fontSize": 26, "offset": 24},
      "spacing": 19,
      "resolve": {"scale": {"color": "independent"}, "legend": {"color": "independent"}},
      "vconcat": [
        {
          "width": 328,
          "height": 290,
          "title": {"text": "Zonal current u at 204m"},
          "data": {"name": "cur"},
          "transform": [{"filter": "datum.p === 'u'"}],
          "layer": [
            {
              "mark": {"type": "rule", "strokeWidth": 2},
              "encoding": {
                "x": {
                  "field": "m", "type": "nominal",
                  "scale": {"type": "point", "padding": 0.47, "domain": ["Obs", "RCO-A", "RCO", "GETM", "MOM"]},
                  "axis": {
                    "title": "Model", "labelAngle": 0, "labelFontSize": 19, "titleFontSize": 19,
                    "encode": {"labels": {"update": {"fill": {"signal": "datum.value === 'Obs' ? '#222222' : datum.value === 'RCO-A' ? '#e63d52' : datum.value === 'RCO' ? '#f5a445' : datum.value === 'GETM' ? '#1f9e57' : '#2a8fd0'"}}}}
                  }
                },
                "y": {
                  "field": "lo", "type": "quantitative",
                  "scale": {"domain": [-1.65, 5.45], "nice": false, "zero": false},
                  "axis": {"values": [-1, 0, 1, 2, 3, 4, 5], "grid": true, "gridColor": "#d4d4d4", "gridWidth": 1.5, "title": "u [cm s⁻¹]", "labelFontSize": 19, "titleFontSize": 19, "labelPadding": 8}
                },
                "y2": {"field": "hi"},
                "color": {"field": "m", "type": "nominal", "scale": {"domain": ["Obs", "RCO-A", "RCO", "GETM", "MOM"], "range": ["#111111", "#e63d52", "#f5a445", "#1f9e57", "#2a8fd0"]}, "legend": null}
              }
            },
            {
              "data": {"values": [{}]},
              "mark": {"type": "rule", "color": "#555555", "strokeWidth": 1.6},
              "encoding": {"y": {"datum": 0}}
            },
            {
              "mark": {"type": "tick", "thickness": 2, "size": 13},
              "encoding": {"x": {"field": "m", "type": "nominal"}, "y": {"field": "lo", "type": "quantitative"}, "color": {"field": "m", "type": "nominal", "legend": null}}
            },
            {
              "mark": {"type": "tick", "thickness": 2, "size": 13},
              "encoding": {"x": {"field": "m", "type": "nominal"}, "y": {"field": "hi", "type": "quantitative"}, "color": {"field": "m", "type": "nominal", "legend": null}}
            },
            {
              "mark": {"type": "point", "filled": false, "size": 170, "strokeWidth": 2, "opacity": 1},
              "encoding": {"x": {"field": "m", "type": "nominal"}, "y": {"field": "mean", "type": "quantitative"}, "color": {"field": "m", "type": "nominal", "legend": null}}
            },
            {
              "data": {"values": [{}]},
              "mark": {"type": "text", "font": "Open Sans", "fontWeight": "bold", "fontSize": 32, "color": "#111111", "align": "center", "baseline": "middle", "dx": 8},
              "encoding": {"x": {"datum": "Obs"}, "y": {"datum": 4.59}, "text": {"value": "(D)"}}
            }
          ]
        },
        {
          "width": 328,
          "height": 290,
          "title": {"text": "Meridional current v at 204m"},
          "data": {"name": "cur"},
          "transform": [{"filter": "datum.p === 'v'"}],
          "layer": [
            {
              "mark": {"type": "rule", "strokeWidth": 2},
              "encoding": {
                "x": {
                  "field": "m", "type": "nominal",
                  "scale": {"type": "point", "padding": 0.47, "domain": ["Obs", "RCO-A", "RCO", "GETM", "MOM"]},
                  "axis": {
                    "title": "Model", "labelAngle": 0, "labelFontSize": 19, "titleFontSize": 19,
                    "encode": {"labels": {"update": {"fill": {"signal": "datum.value === 'Obs' ? '#222222' : datum.value === 'RCO-A' ? '#e63d52' : datum.value === 'RCO' ? '#f5a445' : datum.value === 'GETM' ? '#1f9e57' : '#2a8fd0'"}}}}
                  }
                },
                "y": {
                  "field": "lo", "type": "quantitative",
                  "scale": {"domain": [-1.65, 5.45], "nice": false, "zero": false},
                  "axis": {"values": [-1, 0, 1, 2, 3, 4, 5], "grid": true, "gridColor": "#d4d4d4", "gridWidth": 1.5, "title": "v [cm s⁻¹]", "labelFontSize": 19, "titleFontSize": 19, "labelPadding": 8}
                },
                "y2": {"field": "hi"},
                "color": {"field": "m", "type": "nominal", "scale": {"domain": ["Obs", "RCO-A", "RCO", "GETM", "MOM"], "range": ["#111111", "#e63d52", "#f5a445", "#1f9e57", "#2a8fd0"]}, "legend": null}
              }
            },
            {
              "data": {"values": [{}]},
              "mark": {"type": "rule", "color": "#555555", "strokeWidth": 1.6},
              "encoding": {"y": {"datum": 0}}
            },
            {
              "mark": {"type": "tick", "thickness": 2, "size": 13},
              "encoding": {"x": {"field": "m", "type": "nominal"}, "y": {"field": "lo", "type": "quantitative"}, "color": {"field": "m", "type": "nominal", "legend": null}}
            },
            {
              "mark": {"type": "tick", "thickness": 2, "size": 13},
              "encoding": {"x": {"field": "m", "type": "nominal"}, "y": {"field": "hi", "type": "quantitative"}, "color": {"field": "m", "type": "nominal", "legend": null}}
            },
            {
              "mark": {"type": "point", "filled": false, "size": 170, "strokeWidth": 2, "opacity": 1},
              "encoding": {"x": {"field": "m", "type": "nominal"}, "y": {"field": "mean", "type": "quantitative"}, "color": {"field": "m", "type": "nominal", "legend": null}}
            },
            {
              "data": {"values": [{}]},
              "mark": {"type": "text", "font": "Open Sans", "fontWeight": "bold", "fontSize": 32, "color": "#111111", "align": "center", "baseline": "middle", "dx": 8},
              "encoding": {"x": {"datum": "Obs"}, "y": {"datum": -0.95}, "text": {"value": "(E)"}}
            }
          ]
        }
      ]
    }
  ]
}
